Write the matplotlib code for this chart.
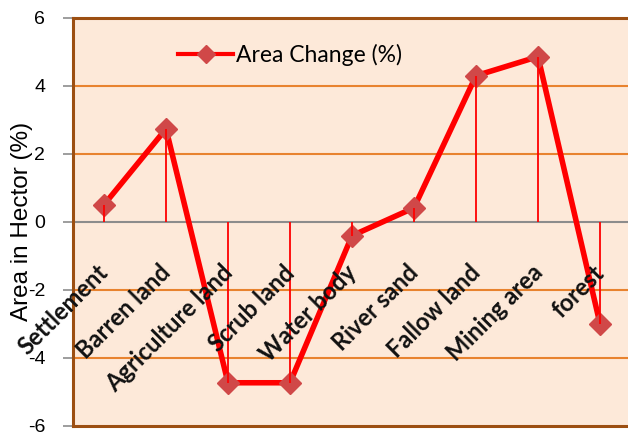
import matplotlib
matplotlib.use("Agg")
import matplotlib.pyplot as plt
from matplotlib.lines import Line2D

categories = ["Settlement", "Barren land", "Agriculture land", "Scrub land", "Water body",
              "River sand", "Fallow land", "Mining area", "forest"]
area_change = [0.5, 2.73, -4.73, -4.73, -0.41, 0.41, 4.29, 4.85, -3.0]
y_ticks = [-6, -4, -2, 0, 2, 4, 6]

fig = plt.figure(figsize=(6.28, 4.32), dpi=100)
ax = fig.add_axes([73/628, 1-426/432, (631-73)/628, (426-17.5)/432])
ax.set_facecolor("#FDE9D9")

n = len(categories)
xs = list(range(n))
ax.set_xlim(-0.5, n - 0.5)
ax.set_ylim(-6, 6)

# gridlines
for t in y_ticks:
    if t in (-6, 6):
        continue
    if t == 0:
        ax.axhline(0, color="#8C8C8C", lw=1.5, zorder=1)
    else:
        ax.axhline(t, color="#E8832F", lw=1.5, zorder=1)

ax.plot(xs, area_change, color="#FF0000", lw=4, marker="D", markersize=11,
        markerfacecolor="#D04848", markeredgecolor="#D04848", zorder=3)
# drop lines
ax.vlines(xs, 0, area_change, color="#FF0000", lw=1.3, zorder=4)

# category labels
for x, lab in zip(xs, categories):
    ax.text(x - 0.12, -1.15, lab, rotation=45, ha="right", va="top",
            rotation_mode="anchor", fontsize=17, fontweight="bold",
            family="Lato", color="#111111", zorder=5)

ax.set_xticks([])
ax.set_yticks(y_ticks)
ax.set_yticklabels([str(t) for t in y_ticks], fontsize=14, family="Liberation Sans")
ax.tick_params(axis="y", direction="out", length=7, width=1.2, color="#8C8C8C", pad=13)

for s in ["left", "top", "bottom"]:
    ax.spines[s].set_color("#9C4F12")
    ax.spines[s].set_linewidth(2.2)
ax.spines["right"].set_visible(False)

ax.set_ylabel("Area in Hector (%)", fontsize=17.5, family="Liberation Sans")
ax.yaxis.set_label_coords(-0.072, 0.5)

handle = Line2D([], [], color="#FF0000", lw=3, marker="D", markersize=9,
                markerfacecolor="#D04848", markeredgecolor="#D04848")
fig.legend([handle], ["Area Change (%)"], loc="center left",
           bbox_to_anchor=(178/628, 1-55/432), frameon=False,
           borderpad=0, borderaxespad=0, handlelength=2.4, handletextpad=0.15,
           prop={"family": "Lato", "size": 16.5})

fig.savefig("out.png", dpi=100)
